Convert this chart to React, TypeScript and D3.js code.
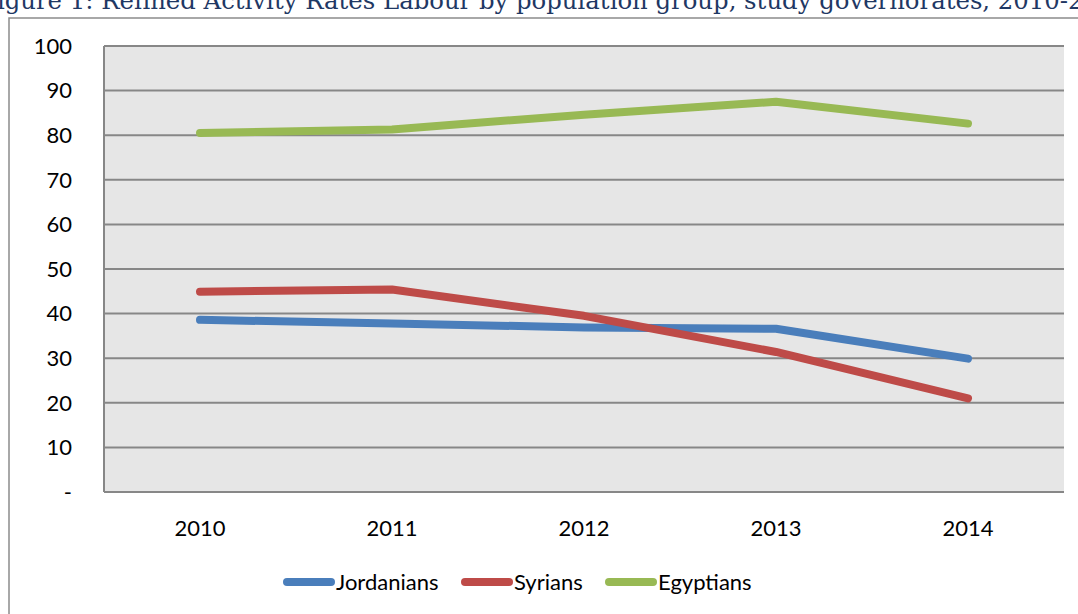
import React from "react";
import * as d3 from "d3";

const years = ["2010", "2011", "2012", "2013", "2014"];
const jordanians = [38.6, 37.8, 36.9, 36.6, 29.9];
const syrians = [44.9, 45.4, 39.5, 31.4, 21.0];
const egyptians = [80.5, 81.3, 84.6, 87.5, 82.6];
const yTicks = [0, 10, 20, 30, 40, 50, 60, 70, 80, 90, 100];
const seriesNames = ["Jordanians", "Syrians", "Egyptians"];
const seriesColors = ["#4a7ebb", "#be4b48", "#98b954"];
const title = "Figure 1: Refined Activity Rates Labour by population group, study governorates, 2010-2014";

const W = 1078;
const H = 614;
const plot = { left: 104, right: 1064, top: 46, bottom: 492 };

export default function App() {
  const x = d3.scaleBand<string>().domain(years).range([plot.left, plot.right]);
  const y = d3.scaleLinear().domain([0, 100]).range([plot.bottom, plot.top]);
  const line = d3
    .line<number>()
    .x((_, i) => (x(years[i]) as number) + x.bandwidth() / 2)
    .y((d) => y(d));
  const allSeries = [jordanians, syrians, egyptians];
  const font = "Lato, 'Open Sans', sans-serif";
  const legendX = [283, 461, 605];

  return (
    <div style={{ position: "absolute", left: 0, top: 0 }}>
      <svg width={W} height={H} style={{ display: "block" }}>
        <rect width={W} height={H} fill="#ffffff" />
        <text
          x={-20}
          y={9}
          fontFamily="'DejaVu Serif', serif"
          fontSize={24}
          fill="#1f3864"
          textLength={1150}
          lengthAdjust="spacingAndGlyphs"
        >
          {title}
        </text>
        <rect x={9} y={18} width={1090} height={620} fill="none" stroke="#8c8c8c" strokeWidth={1.5} />
        <rect
          x={plot.left}
          y={plot.top}
          width={plot.right - plot.left}
          height={plot.bottom - plot.top}
          fill="#e6e6e6"
        />
        {yTicks.map((t) => (
          <g key={t}>
            <line
              x1={plot.left}
              x2={plot.right}
              y1={y(t)}
              y2={y(t)}
              stroke="#878787"
              strokeWidth={2}
            />
            <text
              x={72}
              y={y(t)}
              dy="0.35em"
              textAnchor="end"
              fontFamily={font}
              fontSize={22}
              fill="#000"
            >
              {t === 0 ? "-" : t}
            </text>
          </g>
        ))}
        <line x1={plot.left} x2={plot.left} y1={plot.top} y2={plot.bottom} stroke="#878787" strokeWidth={2} />
        {years.map((yr) => (
          <text
            key={yr}
            x={(x(yr) as number) + x.bandwidth() / 2}
            y={528}
            dy="0.35em"
            textAnchor="middle"
            fontFamily={font}
            fontSize={22}
            fill="#000"
          >
            {yr}
          </text>
        ))}
        {allSeries.map((s, i) => (
          <path
            key={i}
            d={line(s) as string}
            fill="none"
            stroke={seriesColors[i]}
            strokeWidth={8}
            strokeLinecap="round"
            strokeLinejoin="round"
          />
        ))}
        {seriesNames.map((n, i) => (
          <g key={n}>
            <line
              x1={legendX[i] + 4}
              x2={legendX[i] + 48}
              y1={582}
              y2={582}
              stroke={seriesColors[i]}
              strokeWidth={8}
              strokeLinecap="round"
            />
            <text
              x={legendX[i] + 53}
              y={582}
              dy="0.35em"
              fontFamily={font}
              fontSize={22}
              fill="#000"
            >
              {n}
            </text>
          </g>
        ))}
      </svg>
    </div>
  );
}
